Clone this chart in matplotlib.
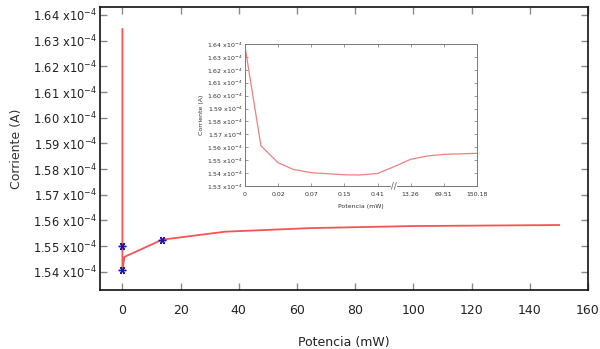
import matplotlib
matplotlib.use("Agg")
import matplotlib.pyplot as plt
import numpy as np

# Main curve (mW, A*1e4)
main_x = [0.0, 0.0, 0.7, 13.7, 35.3, 64.5, 99.9, 150.1]
main_y = [1.6345, 1.5404, 1.5458, 1.5525, 1.5556, 1.5570, 1.5578, 1.5582]
mark_x = [-0.3, 0.0, 13.7]
mark_y = [1.5501, 1.5405, 1.5525]

# Inset curve (categorical positions)
inset_pos = [0, 0.48, 1, 1.45, 2, 3, 3.45, 4, 4.5, 5, 5.5, 6, 7]
inset_y = [1.638, 1.5612, 1.548, 1.5429, 1.5403, 1.5387, 1.5385, 1.5397,
           1.545, 1.5507, 1.5532, 1.5545, 1.5553]
inset_ticklabels = ["0", "0.02", "0.07", "0.15", "0.41", "13.26", "69.51", "150.18"]
inset_tickpos = [0, 1, 2, 3, 4, 5, 6, 7]

main_yticks = [1.54, 1.55, 1.56, 1.57, 1.58, 1.59, 1.60, 1.61, 1.62, 1.63, 1.64]
inset_yticks = [1.53, 1.54, 1.55, 1.56, 1.57, 1.58, 1.59, 1.60, 1.61, 1.62, 1.63, 1.64]
main_xticks = [0, 20, 40, 60, 80, 100, 120, 140, 160]

fig = plt.figure(figsize=(6.0, 3.49), dpi=100)
ax = fig.add_axes([100/600, 1-290/349, (588-100)/600, (290-7)/349])

ax.plot(main_x, main_y, color="#f25555", lw=1.3, zorder=2)
ax.plot(mark_x, mark_y, linestyle="none", marker=(6, 2, 90), markersize=5.5,
        color="#1a1aa0", markeredgewidth=1.0, zorder=3)

ax.set_xlim(-7.7, 160)
ax.set_ylim(1.5329, 1.6431)
ax.set_xticks(main_xticks)
ax.set_yticks(main_yticks)
ax.set_yticklabels([f"{v:.2f} x10$^{{-4}}$" for v in main_yticks])
ax.tick_params(direction="in", length=5, width=1, color="#888888",
               labelcolor="#222222", labelsize=9, top=True, right=True)
ax.tick_params(axis="x", pad=10)
ax.tick_params(axis="y", pad=2, labelsize=8.3)
for s in ax.spines.values():
    s.set_color("#111111")
    s.set_linewidth(1.2)
ax.set_xlabel("Potencia (mW)", fontsize=9, color="#222222", labelpad=14)
ax.set_ylabel("Corriente (A)", fontsize=9, color="#333333", labelpad=7)

# Inset
ins = fig.add_axes([245/600, 1-186/349, (477-245)/600, (186-44)/349])
ins.plot(inset_pos, inset_y, color="#f08080", lw=0.9)
ins.set_xlim(0, 7)
ins.set_ylim(1.53, 1.64)
ins.set_xticks(inset_tickpos)
ins.set_xticklabels(inset_ticklabels)
ins.set_yticks(inset_yticks)
ins.set_yticklabels([f"{v:.2f} x10$^{{-4}}$" for v in inset_yticks])
ins.tick_params(direction="in", length=2.5, width=0.6, color="#888888",
                labelcolor="#333333", labelsize=4.5, top=True, right=True, pad=1.5)
ins.tick_params(axis="x", pad=4)
for s in ins.spines.values():
    s.set_color("#777777")
    s.set_linewidth(0.7)
ins.set_xlabel("Potencia (mW)", fontsize=4.5, color="#333333", labelpad=5)
ins.set_ylabel("Corriente (A)", fontsize=4.5, color="#333333", labelpad=2)
ins.text(4.5, 1.53, "//", fontsize=6, color="#555555", ha="center", va="center",
         bbox=dict(facecolor="white", edgecolor="none", pad=0.2))

fig.savefig("out.png", dpi=100)
